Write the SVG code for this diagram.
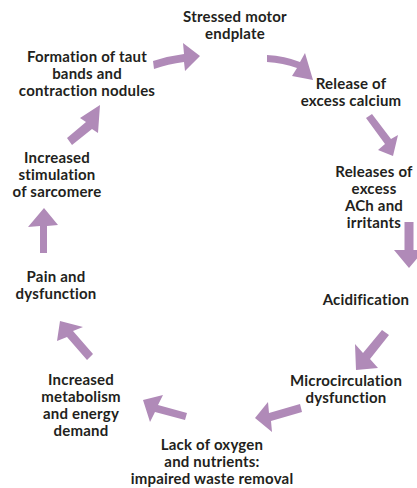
<svg xmlns="http://www.w3.org/2000/svg" width="417" height="488" viewBox="0 0 417 488">
<style>
.t{font-family:Lato,"Open Sans","Liberation Sans",sans-serif;font-size:15px;font-weight:700;letter-spacing:0.2px;fill:#231f20;text-anchor:middle}
.a{fill:#b08ab8;stroke:none}
</style>
<rect width="417" height="488" fill="#ffffff"/>
<g id="connectors">
<path class="a" d="M153,61 Q168,56 184,54 L183,43 L200,56 L185,71 L184,62 Q168,64 154,69 Z"/>
<path class="a" d="M267,55 Q285,56 300,62 L305,53 L313,80 L292,76 L297,68 Q283,63 267,62 Z"/>
<path class="a" d="M372,114 L391,139 L398,135 L393,156 L378,150 L385,144 L366,118 Z"/>
<path class="a" d="M404.5,222 L404.5,250 L394,250 L409,268 L424,250 L413.5,250 L413.5,222 Z"/>
<path class="a" d="M382,330 L363,353 L355,344 L356,370 L378,368 L370,359 L389,335 Z"/>
<path class="a" d="M300,404 L269,413 L268,402 L255,418 L272,432 L271,421 L302,412 Z"/>
<path class="a" d="M187,413 L158,405 L163,395 L143,400 L150,422 L155,412 L185,420 Z"/>
<path class="a" d="M93,354 L73,331 L83,327 L60,321 L57,341 L67,337 L87,360 Z"/>
<path class="a" d="M40,253 L40,226 L28,227 L44,208 L58,225 L47,226 L47,253 Z"/>
<path class="a" d="M67,138 L86,122 L80,118 L100,105 L98,133 L92,129 L72,145 Z"/>
</g>
<g id="n1"><text class="t" x="235" y="22">Stressed motor</text><text class="t" x="235" y="39">endplate</text></g>
<g id="n2"><text class="t" x="351" y="89">Release of</text><text class="t" x="351" y="106">excess calcium</text></g>
<g id="n3"><text class="t" x="374" y="177">Releases of</text><text class="t" x="374" y="194">excess</text><text class="t" x="374" y="211">ACh and</text><text class="t" x="374" y="228">irritants</text></g>
<g id="n4"><text class="t" x="366" y="305">Acidification</text></g>
<g id="n5"><text class="t" x="346" y="386">Microcirculation</text><text class="t" x="346" y="403">dysfunction</text></g>
<g id="n6"><text class="t" x="212" y="450">Lack of oxygen</text><text class="t" x="212" y="467">and nutrients:</text><text class="t" x="212" y="484">impaired waste removal</text></g>
<g id="n7"><text class="t" x="81" y="385">Increased</text><text class="t" x="81" y="402">metabolism</text><text class="t" x="81" y="419">and energy</text><text class="t" x="81" y="436">demand</text></g>
<g id="n8"><text class="t" x="56" y="282">Pain and</text><text class="t" x="56" y="299">dysfunction</text></g>
<g id="n9"><text class="t" x="57" y="163">Increased</text><text class="t" x="57" y="180">stimulation</text><text class="t" x="57" y="197">of sarcomere</text></g>
<g id="n10"><text class="t" x="87" y="62">Formation of taut</text><text class="t" x="87" y="79">bands and</text><text class="t" x="87" y="96">contraction nodules</text></g>
</svg>
